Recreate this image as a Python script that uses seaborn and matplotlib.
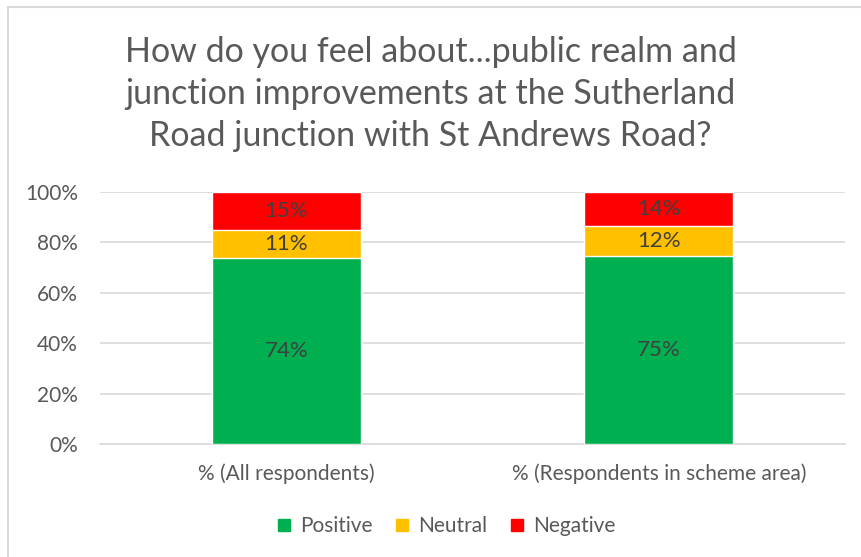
import matplotlib
matplotlib.use('Agg')
import matplotlib.pyplot as plt
import matplotlib.patches as mpatches
from matplotlib.lines import Line2D
import seaborn as sns
import numpy as np
import pandas as pd

sns.set_theme(style='white')
plt.rcParams['font.family'] = ['Lato', 'DejaVu Sans']

# DATA ----
categories = ['% (All respondents)', '% (Respondents in scheme area)']
positive = [73.6, 74.6]
neutral = [11.3, 11.9]
negative = [15.1, 13.5]
series_names = ['Positive', 'Neutral', 'Negative']
colours = ['#00B050', '#FFC000', '#FF0000']
y_ticks = [0, 20, 40, 60, 80, 100]

df = pd.DataFrame({'Category': categories, 'Positive': positive,
                   'Neutral': neutral, 'Negative': negative})
df['cum_pos'] = df['Positive']
df['cum_neu'] = df['Positive'] + df['Neutral']
df['cum_neg'] = df['cum_neu'] + df['Negative']

fig = plt.figure(figsize=(8.61, 5.57), dpi=100)
ax = fig.add_axes([100 / 861, 113 / 557, 745 / 861, 252.3 / 557])

# outer chart frame (only top and left edges fall inside the picture)
fig.patches.append(mpatches.Rectangle((8 / 861, -0.1), 1.1, 1.1 - 6.5 / 557,
                                      transform=fig.transFigure, fill=False,
                                      edgecolor='#D9D9D9', linewidth=1.5))

# stacked bars: draw cumulative totals from the top series down
for col, colour in zip(['cum_neg', 'cum_neu', 'cum_pos'], colours[::-1]):
    sns.barplot(data=df, x='Category', y=col, color=colour, width=0.4,
                saturation=1, ax=ax, zorder=3)

for i in range(len(categories)):
    bottoms = [0, df['cum_pos'][i], df['cum_neu'][i]]
    vals = [positive[i], neutral[i], negative[i]]
    for b, v in zip(bottoms, vals):
        ax.text(i, b + v / 2, f'{round(v):.0f}%', ha='center', va='center',
                fontsize=16, color='#404040', zorder=4)

ax.set_ylim(0, 100)
ax.set_xlim(-0.5, 1.5)
ax.set_yticks(y_ticks)
ax.set_yticklabels([f'{t}%' for t in y_ticks])
ax.yaxis.grid(True, color='#D9D9D9', linewidth=1.2, zorder=0)
ax.set_axisbelow(True)
ax.set_xlabel('')
ax.set_ylabel('')
for s in ['top', 'right', 'left']:
    ax.spines[s].set_visible(False)
ax.spines['bottom'].set_color('#D9D9D9')
ax.spines['bottom'].set_linewidth(1.2)
ax.tick_params(axis='y', length=0, pad=16, labelsize=15, labelcolor='#595959')
ax.tick_params(axis='x', length=0, pad=14, labelsize=15, labelcolor='#595959')

fig.text(0.5, 1 - 94 / 557,
         'How do you feel about...public realm and\njunction improvements at the Sutherland\nRoad junction with St Andrews Road?',
         ha='center', va='center', fontsize=24.5, color='#595959', linespacing=1.37)

handles = [Line2D([0], [0], marker='s', linestyle='', markersize=9,
                  markerfacecolor=c, markeredgecolor=c) for c in colours]
fig.legend(handles, series_names, loc='center', bbox_to_anchor=(445 / 861, 1 - 526 / 557),
           ncol=3, frameon=False, fontsize=15, labelcolor='#595959',
           handlelength=0.9, handletextpad=0.3, columnspacing=1.0)

fig.savefig('out.png', dpi=100)
